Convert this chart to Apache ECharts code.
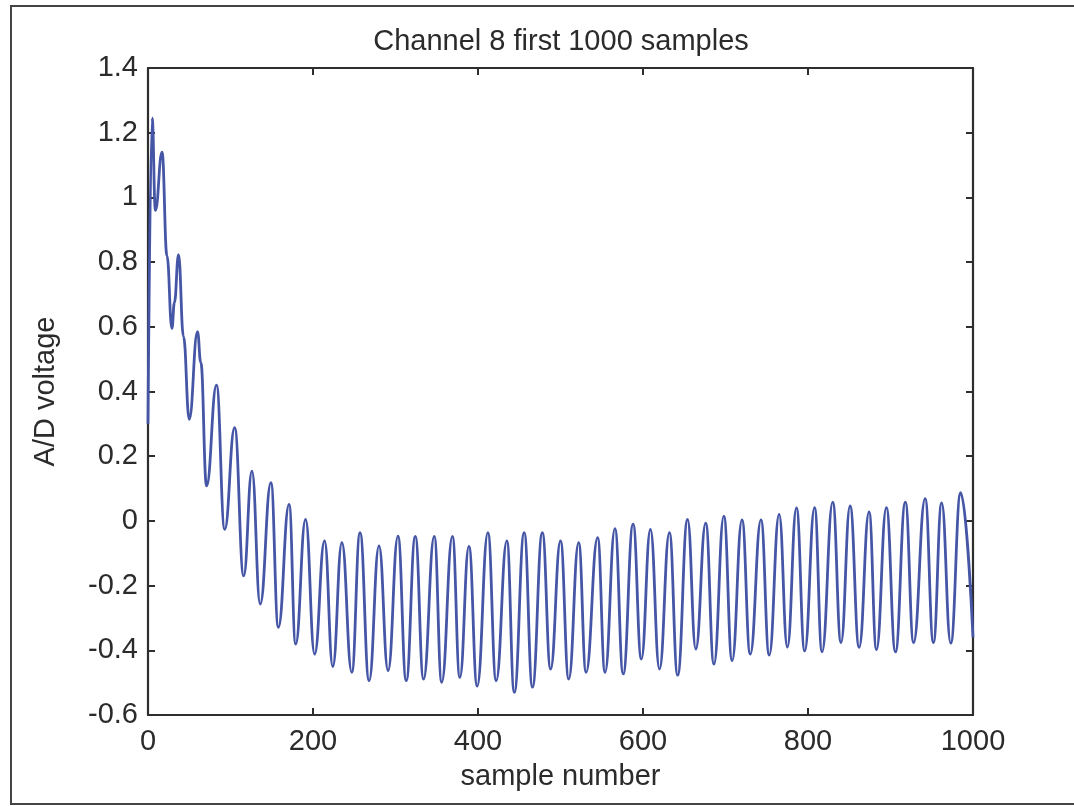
<!DOCTYPE html>
<html>
<head>
<meta charset="utf-8">
<script src="https://cdn.jsdelivr.net/npm/echarts@6/dist/echarts.min.js"></script>
<style>
  html, body { margin: 0; padding: 0; background: #fff; }
  #main { width: 1074px; height: 806px; }
</style>
</head>
<body>
<div id="main"></div>
<script>
// sample numbers of the turning points
var sampleNo = [
  0, 5, 9, 17, 23, 29, 32, 37, 43, 50, 60, 64, 71, 83, 93, 105, 116, 126, 136, 149,
  158, 171, 179, 191, 202, 214, 224, 235, 247, 257, 268, 280, 291, 303, 313, 324, 334, 347, 356, 369,
  378, 389, 399, 412, 422, 435, 444, 456, 466, 478, 488, 500, 510, 522, 531, 545, 554, 566, 576, 588,
  598, 609, 620, 632, 642, 654, 664, 676, 686, 698, 708, 720, 730, 743, 753, 765, 775, 786, 796, 808,
  817, 830, 840, 851, 862, 874, 883, 895, 906, 918, 928, 942, 952, 962, 973, 985, 1000
];
// A/D voltage at those samples
var voltage = [
  0.30, 1.245, 0.96, 1.14, 0.82, 0.595, 0.675, 0.823, 0.57, 0.314, 0.585, 0.49, 0.108, 0.42, -0.026, 0.288, -0.17, 0.154, -0.257, 0.118,
  -0.329, 0.051, -0.381, 0.005, -0.412, -0.062, -0.45, -0.067, -0.468, -0.036, -0.494, -0.077, -0.463, -0.047, -0.494, -0.048, -0.489, -0.048, -0.499, -0.048,
  -0.484, -0.079, -0.511, -0.036, -0.494, -0.062, -0.53, -0.036, -0.514, -0.036, -0.458, -0.062, -0.489, -0.067, -0.468, -0.052, -0.468, -0.024, -0.473, -0.01,
  -0.427, -0.026, -0.458, -0.036, -0.477, 0.005, -0.396, -0.007, -0.443, 0.015, -0.432, 0.003, -0.412, 0.003, -0.415, 0.02, -0.39, 0.04, -0.402, 0.041,
  -0.405, 0.058, -0.376, 0.046, -0.391, 0.028, -0.398, 0.041, -0.405, 0.058, -0.376, 0.069, -0.376, 0.056, -0.378, 0.087, -0.36
];
var xTicks = { min: 0, max: 1000, step: 200 };
var yTicks = { min: -0.6, max: 1.4, step: 0.2 };

var FONT = "'Liberation Sans', Arial, sans-serif";
var INK = "#2b2b2b";
var AXIS = "#2e2e2e";

var points = sampleNo.map(function (s, i) { return [s, voltage[i]]; });

function yLabel(v) { return String(Number(v.toFixed(1))); }
function xLabel(v) { return String(v); }

// shared look for the four sides of the box, ticks pointing in
function side(pos, extra) {
  var ax = {
    type: "value",
    position: pos,
    axisLine: { show: true, onZero: false, lineStyle: { color: AXIS, width: 2.2 } },
    axisTick: { show: true, inside: true, length: 7, lineStyle: { color: AXIS, width: 2 } },
    axisLabel: { show: false },
    splitLine: { show: false }
  };
  return Object.assign(ax, extra);
}

var chart = echarts.init(document.getElementById("main"));
chart.setOption({
  backgroundColor: "#fff",
  animation: false,
  title: {
    text: "Channel 8 first 1000 samples",
    left: 556,
    top: 22,
    textAlign: "center",
    textStyle: { fontFamily: FONT, fontSize: 29, fontWeight: "normal", color: INK }
  },
  grid: { left: 148, right: 101, top: 68, bottom: 91, show: false },
  xAxis: [
    side("bottom", {
      min: xTicks.min, max: xTicks.max, interval: xTicks.step,
      name: "sample number", nameLocation: "middle", nameGap: 47,
      nameTextStyle: { fontFamily: FONT, fontSize: 29, color: INK },
      axisLabel: { show: true, margin: 12, fontFamily: FONT, fontSize: 29, color: INK, formatter: xLabel }
    }),
    side("top", { min: xTicks.min, max: xTicks.max, interval: xTicks.step })
  ],
  yAxis: [
    side("left", {
      min: yTicks.min, max: yTicks.max, interval: yTicks.step,
      name: "A/D voltage", nameLocation: "middle", nameGap: 88, nameRotate: 90,
      nameTextStyle: { fontFamily: FONT, fontSize: 29, color: INK },
      axisLabel: { show: true, margin: 10, fontFamily: FONT, fontSize: 29, color: INK, formatter: yLabel }
    }),
    side("right", { min: yTicks.min, max: yTicks.max, interval: yTicks.step })
  ],
  series: [
    {
      type: "line",
      data: points,
      xAxisIndex: 0,
      yAxisIndex: 0,
      showSymbol: false,
      smooth: 0.45,
      smoothMonotone: "x",
      lineStyle: { color: "#4656a6", width: 2.8 }
    }
  ],
  graphic: [
    {
      type: "polyline",
      shape: { points: [[1074, 6], [11, 6], [11, 804], [1074, 804]] },
      style: { fill: null, stroke: "#444", lineWidth: 2 },
      silent: true
    }
  ]
});
</script>
</body>
</html>
